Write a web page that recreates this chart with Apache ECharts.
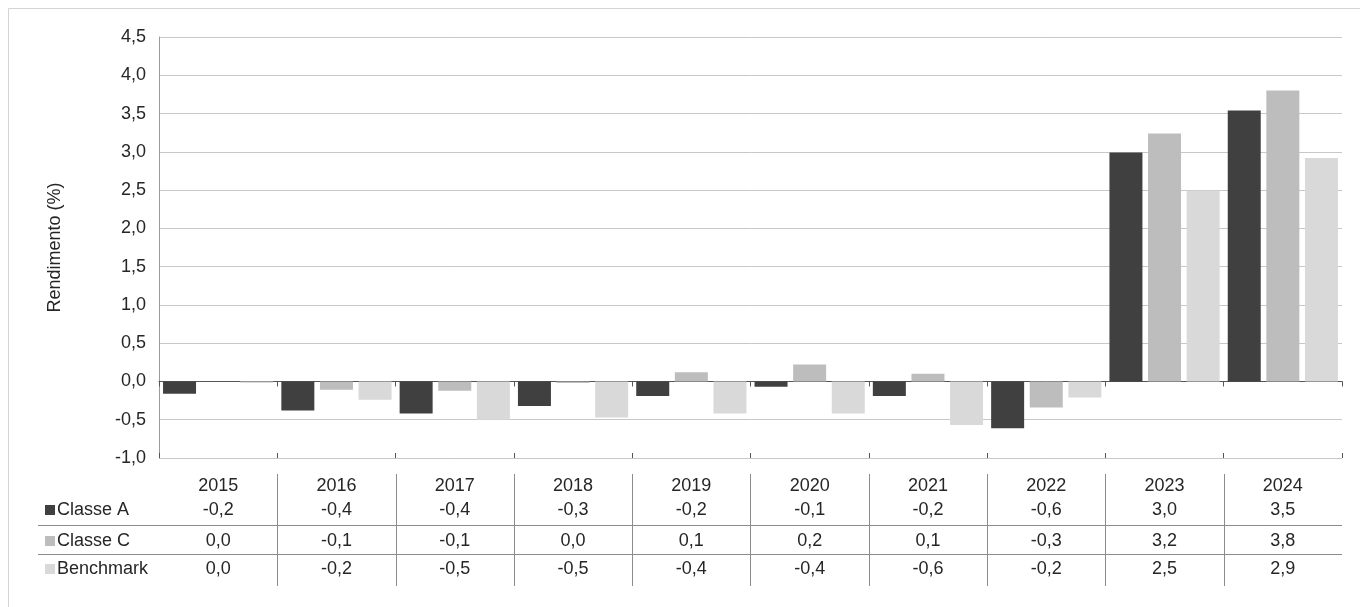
<!DOCTYPE html>
<html><head><meta charset="utf-8">
<script src="https://cdn.jsdelivr.net/npm/echarts@6.0.0/dist/echarts.min.js"></script>
<style>html,body{margin:0;padding:0;background:#fff}#c{width:1360px;height:607px}</style>
</head><body><div id="c"></div>
<script>
const years = ['2015','2016','2017','2018','2019','2020','2021','2022','2023','2024'];
const seriesNames = ['Classe A','Classe C','Benchmark'];
const classeA   = [-0.16,-0.38,-0.42,-0.32,-0.19,-0.07,-0.19,-0.61,2.99,3.54];
const classeC   = [0.00,-0.11,-0.12,-0.02,0.12,0.22,0.10,-0.34,3.24,3.80];
const benchmark = [-0.02,-0.24,-0.50,-0.47,-0.42,-0.42,-0.57,-0.21,2.49,2.92];
const yMin = -1.0, yMax = 4.5, yStep = 0.5;
const yTitle = 'Rendimento (%)';

const colors = ['#404040','#bdbdbd','#d9d9d9'];
const FONT = "'Liberation Sans', Arial, sans-serif";
const TXT = '#262626';
const allSeries = [classeA, classeC, benchmark];
const fmt = v => { let r = Math.round(v*10)/10; if (r === 0) r = 0; return r.toFixed(1).replace('.', ','); };

const GRID = {left:159, right:18, top:37, bottom:149};
const rowMargins = [19, 43, 74, 102];

const xAxes = [
  {type:'category', data:years, gridIndex:0, position:'bottom',
   axisLine:{onZero:true, lineStyle:{color:'#555', width:1}},
   axisTick:{show:true, inside:false, length:5, lineStyle:{color:'#555'}},
   axisLabel:{show:false}, splitLine:{show:false}},
  {type:'category', data:years, gridIndex:0, position:'bottom',
   axisLine:{show:false, onZero:true},
   axisTick:{show:true, inside:true, length:5, lineStyle:{color:'#555'}},
   axisLabel:{show:false}, splitLine:{show:false}}
];
// table rows as axis labels
const rows = [years.map(y=>y)].concat(allSeries.map(s => s.map(fmt)));
rows.forEach((row, k) => {
  xAxes.push({type:'category', data:row.map((t,i)=>({value: years[i] + '_' + k, label:t})), gridIndex:0, position:'bottom',
    axisLine:{show:false, onZero:false}, axisTick:{show:false}, splitLine:{show:false},
    axisLabel:{show:true, interval:0, margin:rowMargins[k], color:TXT, fontFamily:FONT, fontSize:18, lineHeight:18,
      formatter:(v, i) => row[i]}});
});

const chart = echarts.init(document.getElementById('c'), null, {renderer:'canvas'});
chart.setOption({
  backgroundColor:'#fff',
  animation:false,
  grid:{left:GRID.left, right:GRID.right, top:GRID.top, bottom:GRID.bottom, outerBoundsMode:'none', containLabel:false},
  xAxis: xAxes,
  yAxis:{type:'value', min:yMin, max:yMax, interval:yStep,
    name:yTitle, nameLocation:'middle', nameRotate:90, nameGap:95,
    nameTextStyle:{color:TXT, fontFamily:FONT, fontSize:18},
    axisLine:{show:true, lineStyle:{color:'#9a9a9a'}},
    axisTick:{show:false},
    axisLabel:{margin:13, color:TXT, fontFamily:FONT, fontSize:18, formatter:v => v.toFixed(1).replace('.', ',')},
    splitLine:{show:true, lineStyle:{color:'#c8c8c8', width:1}}},
  series: allSeries.map((s, k) => ({
    type:'bar', name:seriesNames[k], data:s, xAxisIndex:0, yAxisIndex:0,
    barWidth:33, barGap:'17%', itemStyle:{color:colors[k]}
  }))
});

// table lines and legend keys
const cx = i => chart.convertToPixel({xAxisIndex:0}, i);
const band = cx(1) - cx(0);
const xLeft = cx(0) - band/2, xRight = cx(years.length-1) + band/2;
const g = [];
g.push({type:'rect', shape:{x:8.5, y:8.5, width:1400, height:700}, style:{fill:null, stroke:'#d4d4d4', lineWidth:1}, z:-1});
for (let i = 1; i < years.length; i++) {
  const x = Math.round(xLeft + band*i) + 0.5;
  g.push({type:'line', shape:{x1:x, y1:474, x2:x, y2:586}, style:{stroke:'#8c8c8c', lineWidth:1}});
}
[525.5, 554.5].forEach(y => g.push({type:'line', shape:{x1:38, y1:y, x2:xRight, y2:y}, style:{stroke:'#8c8c8c', lineWidth:1}}));
const rowY = [510, 541, 569];
seriesNames.forEach((n, k) => {
  g.push({type:'rect', shape:{x:45, y:rowY[k]-5, width:10, height:10}, style:{fill:colors[k]}});
  g.push({type:'text', x:57, y:rowY[k], style:{text:n, fill:TXT, font:"18px 'Liberation Sans', Arial, sans-serif", textVerticalAlign:'middle', verticalAlign:'middle'}});
});
chart.setOption({graphic:g});
</script>
</body></html>
